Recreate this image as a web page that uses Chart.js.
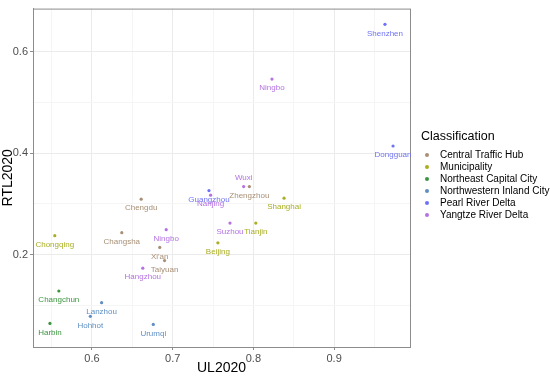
<!DOCTYPE html>
<html>
<head>
<meta charset="utf-8">
<script src="https://cdn.jsdelivr.net/npm/chart.js@4"></script>
<style>
  html, body { margin: 0; padding: 0; background: #fff; }
  #wrap { width: 550px; height: 377px; }
</style>
</head>
<body>
<div id="wrap"><canvas id="chart" width="550" height="377"></canvas></div>
<script>
// city values
const cities = ["Shenzhen", "Dongguan", "Ningbo", "Wuxi", "Zhengzhou", "Guangzhou", "Nanjing", "Shanghai",
    "Suzhou", "Tianjin", "Beijing", "Chengdu", "Chongqing", "Changsha", "Ningbo", "Xi'an", "Taiyuan",
    "Hangzhou", "Changchun", "Lanzhou", "Hohhot", "Harbin", "Urumqi"];
const ul2020 = [0.963, 0.973, 0.823, 0.788, 0.795, 0.745, 0.747, 0.838,
    0.771, 0.803, 0.756, 0.661, 0.554, 0.637, 0.692, 0.684, 0.690,
    0.663, 0.559, 0.612, 0.598, 0.548, 0.676];
const rtl2020 = [0.654, 0.414, 0.546, 0.334, 0.334, 0.326, 0.317, 0.311,
    0.262, 0.262, 0.223, 0.309, 0.237, 0.243, 0.249, 0.214, 0.188,
    0.173, 0.128, 0.105, 0.078, 0.064, 0.062];
const cityClass = ["Pearl River Delta", "Pearl River Delta", "Yangtze River Delta", "Yangtze River Delta",
    "Central Traffic Hub", "Pearl River Delta", "Yangtze River Delta", "Municipality",
    "Yangtze River Delta", "Municipality", "Municipality", "Central Traffic Hub", "Municipality",
    "Central Traffic Hub", "Yangtze River Delta", "Central Traffic Hub", "Central Traffic Hub",
    "Yangtze River Delta", "Northeast Capital City", "Northwestern Inland City",
    "Northwestern Inland City", "Northeast Capital City", "Northwestern Inland City"];

const classes = ["Central Traffic Hub", "Municipality", "Northeast Capital City",
    "Northwestern Inland City", "Pearl River Delta", "Yangtze River Delta"];
const classColors = ["#a88f76", "#a9ae22", "#3d9440", "#5f8fc2", "#6f72f2", "#b472e2"];

const xTicks = [0.55, 0.6, 0.65, 0.7, 0.75, 0.8, 0.85, 0.9, 0.95];
const yTicks = [0.1, 0.2, 0.3, 0.4, 0.5, 0.6];

const FONT = "'Liberation Sans', Arial, sans-serif";

// labels drawn above the point instead of below
const labelAbove = ["Wuxi"];

const datasets = classes.map((c, k) => {
    const pts = [];
    cities.forEach((name, i) => {
        if (cityClass[i] === c) pts.push({ x: ul2020[i], y: rtl2020[i], name: name });
    });
    return {
        label: c,
        data: pts,
        backgroundColor: classColors[k],
        borderColor: classColors[k],
        pointRadius: 1.6,
        pointHoverRadius: 1.6,
        borderWidth: 0
    };
});

function isMajor(v) {
    return Math.abs(v * 10 - Math.round(v * 10)) < 1e-6;
}
function isMajorY(v) {
    return Math.abs(v * 5 - Math.round(v * 5)) < 1e-6;
}

const extras = {
    id: "extras",
    afterDatasetsDraw(chart) {
        const ctx = chart.ctx;
        const a = chart.chartArea;
        ctx.save();
        // panel border
        ctx.strokeStyle = "#8c8c8c";
        ctx.lineWidth = 1;
        ctx.strokeRect(a.left + 0.5, a.top + 0.5, a.right - a.left, a.bottom - a.top);

        // point labels
        ctx.font = "8px " + FONT;
        ctx.textAlign = "center";
        ctx.textBaseline = "middle";
        chart.data.datasets.forEach((ds, di) => {
            const meta = chart.getDatasetMeta(di);
            meta.data.forEach((el, j) => {
                const name = ds.data[j].name;
                const dy = labelAbove.includes(name) ? -9 : 9;
                ctx.fillStyle = ds.backgroundColor;
                ctx.fillText(name, el.x, el.y + dy);
            });
        });

        // legend
        ctx.fillStyle = "#000";
        ctx.textAlign = "left";
        ctx.font = "12.5px " + FONT;
        ctx.fillText("Classification", 421, 137);
        ctx.font = "10px " + FONT;
        classes.forEach((c, k) => {
            const y = 155 + k * 12;
            ctx.fillStyle = classColors[k];
            ctx.beginPath();
            ctx.arc(427, y, 2, 0, Math.PI * 2);
            ctx.fill();
            ctx.fillStyle = "#000";
            ctx.fillText(c, 440, y);
        });
        ctx.restore();
    }
};

new Chart(document.getElementById("chart"), {
    type: "scatter",
    data: { datasets: datasets },
    options: {
        responsive: false,
        animation: false,
        layout: { padding: { top: 3, right: 140, left: 0, bottom: 0 } },
        plugins: { legend: { display: false }, tooltip: { enabled: false } },
        scales: {
            x: {
                min: 0.527,
                max: 0.994,
                afterBuildTicks: (s) => { s.ticks = xTicks.map(v => ({ value: v })); },
                afterFit: (s) => { s.height = 30; },
                ticks: {
                    autoSkip: false,
                    maxRotation: 0,
                    padding: 2,
                    color: "#4d4d4d",
                    font: { family: FONT, size: 11 },
                    callback: (v) => isMajor(v) ? v.toFixed(1) : ""
                },
                grid: {
                    color: (c) => isMajor(c.tick.value) ? "#ebebeb" : "#f5f5f5",
                    tickColor: (c) => isMajor(c.tick.value) ? "#8c8c8c" : "rgba(0,0,0,0)",
                    tickLength: 3
                },
                border: { display: true, color: "#8c8c8c" },
                title: {
                    display: true,
                    text: "UL2020",
                    color: "#000",
                    font: { family: FONT, size: 14 },
                    padding: { top: 0, bottom: 0 }
                }
            },
            y: {
                min: 0.0175,
                max: 0.685,
                afterBuildTicks: (s) => { s.ticks = yTicks.map(v => ({ value: v })); },
                afterFit: (s) => { s.width = 33; },
                ticks: {
                    autoSkip: false,
                    padding: 2,
                    color: "#4d4d4d",
                    font: { family: FONT, size: 11 },
                    callback: (v) => isMajorY(v) ? v.toFixed(1) : ""
                },
                grid: {
                    color: (c) => isMajorY(c.tick.value) ? "#ebebeb" : "#f5f5f5",
                    tickColor: (c) => isMajorY(c.tick.value) ? "#8c8c8c" : "rgba(0,0,0,0)",
                    tickLength: 3
                },
                border: { display: true, color: "#8c8c8c" },
                title: {
                    display: true,
                    text: "RTL2020",
                    color: "#000",
                    font: { family: FONT, size: 14 },
                    padding: { top: 0, bottom: 0 }
                }
            }
        }
    },
    plugins: [extras]
});
</script>
</body>
</html>
